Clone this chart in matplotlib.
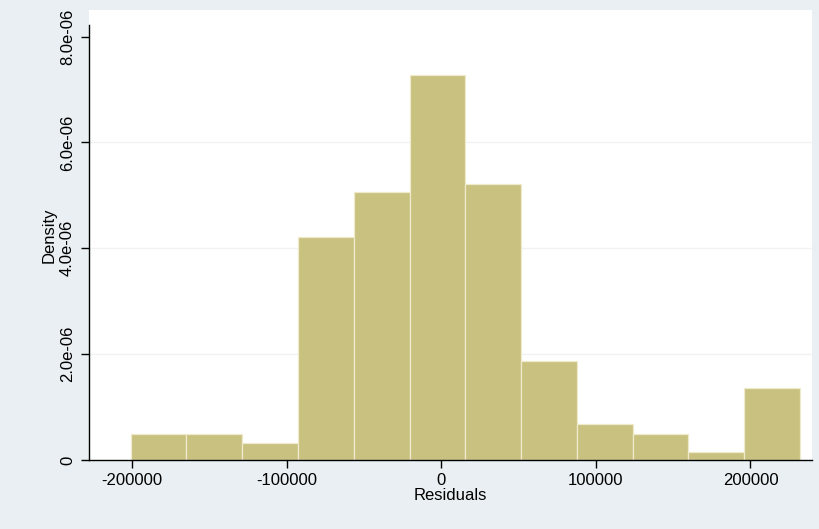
import matplotlib.pyplot as plt
import numpy as np

plt.rcParams['font.family'] = ['Liberation Sans', 'DejaVu Sans']

# histogram of the residuals: 12 bins, first edge and bin width
bin_start = -201000
bin_width = 36080
density = [0.486e-6, 0.486e-6, 0.327e-6, 4.21e-6, 5.07e-6, 7.28e-6,
           5.21e-6, 1.87e-6, 0.68e-6, 0.486e-6, 0.157e-6, 1.355e-6]

xticks = [-200000, -100000, 0, 100000, 200000]
yticks = [0, 2e-6, 4e-6, 6e-6, 8e-6]
ytick_labels = ['0', '2.0e-06', '4.0e-06', '6.0e-06', '8.0e-06']

edges = bin_start + bin_width * np.arange(len(density))

fig = plt.figure(figsize=(8.2, 5.29), dpi=100)
fig.patch.set_facecolor('#e9eff2')
ax = fig.add_axes([0.1091, 0.1304, 0.8809, 0.8506])
ax.set_facecolor('white')

# faint grid at the labelled densities
for y in yticks[1:-1]:
    ax.axhline(y, color='#f0f2f4', lw=1.0, zorder=0)

ax.bar(edges, density, width=bin_width, align='edge',
       color='#c9c17f', edgecolor='#eeeacb', linewidth=0.9, zorder=2)

ax.set_xlim(-227700, 239700)
ax.set_ylim(0, 8.5e-6)

for side in ['top', 'right']:
    ax.spines[side].set_visible(False)
ax.spines['left'].set_bounds(0, 8.22e-6)
ax.spines['left'].set_linewidth(1.0)
ax.spines['bottom'].set_linewidth(1.0)

ax.set_xticks(xticks)
ax.set_xticklabels([str(v) for v in xticks], fontsize=12)
ax.set_yticks(yticks)
ax.set_yticklabels(ytick_labels, fontsize=12, rotation=90, va='center')
ax.tick_params(axis='both', length=5.5, width=1.0, direction='out')
ax.tick_params(axis='x', pad=4)
ax.tick_params(axis='y', pad=5)

ax.set_xlabel('Residuals', fontsize=12, labelpad=0)
ax.set_ylabel('Density', fontsize=12, labelpad=2)

fig.savefig('out.png', dpi=100, facecolor=fig.get_facecolor())
